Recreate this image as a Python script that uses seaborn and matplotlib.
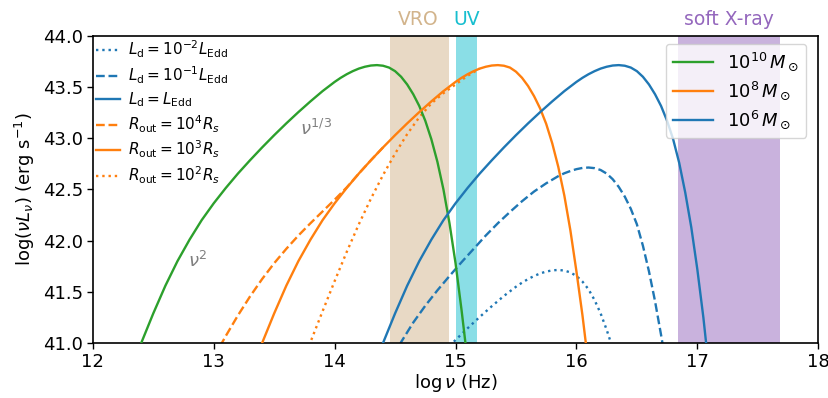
import numpy as np
import pandas as pd
import matplotlib
matplotlib.use("Agg")
import matplotlib.pyplot as plt
from matplotlib.lines import Line2D
import seaborn as sns

# ---- data ----
# 1e10 Msun, L_d = L_Edd, R_out = 1e3 Rs
green_x = [12.35, 12.40, 12.50, 12.60, 12.70, 12.80, 12.90, 13.00, 13.10, 13.20,
           13.30, 13.40, 13.50, 13.60, 13.70, 13.80, 13.90, 14.00, 14.05, 14.10,
           14.15, 14.20, 14.25, 14.30, 14.35, 14.40, 14.45, 14.50, 14.55, 14.60,
           14.65, 14.70, 14.75, 14.80, 14.85, 14.90, 14.95, 15.00, 15.05, 15.09]
green_y = [40.85, 41.00, 41.29, 41.56, 41.80, 42.01, 42.20, 42.365, 42.515, 42.655,
           42.785, 42.91, 43.03, 43.145, 43.255, 43.36, 43.46, 43.55, 43.59, 43.625,
           43.655, 43.68, 43.698, 43.71, 43.714, 43.708, 43.69, 43.655, 43.60, 43.525,
           43.43, 43.315, 43.17, 42.99, 42.77, 42.50, 42.17, 41.78, 41.32, 40.92]

# 1e8 Msun, L_d = L_Edd, R_out = 1e3 Rs
orange_x = [13.35, 13.40, 13.50, 13.60, 13.70, 13.80, 13.90, 14.00, 14.10, 14.20,
            14.30, 14.40, 14.50, 14.60, 14.70, 14.80, 14.90, 15.00, 15.05, 15.10,
            15.15, 15.20, 15.25, 15.30, 15.35, 15.40, 15.45, 15.50, 15.55, 15.60,
            15.65, 15.70, 15.75, 15.80, 15.85, 15.90, 15.95, 16.00, 16.05, 16.09]
orange_y = [40.85, 41.00, 41.29, 41.56, 41.80, 42.01, 42.20, 42.365, 42.515, 42.655,
            42.785, 42.91, 43.03, 43.145, 43.255, 43.36, 43.46, 43.55, 43.59, 43.625,
            43.655, 43.68, 43.698, 43.71, 43.714, 43.708, 43.69, 43.65, 43.59, 43.51,
            43.41, 43.29, 43.14, 42.95, 42.72, 42.44, 42.10, 41.70, 41.27, 40.88]

# 1e8 Msun, R_out = 1e4 Rs (joins the solid curve near 14.3)
orange_dash_x = [13.00, 13.10, 13.20, 13.30, 13.40, 13.50, 13.60, 13.70, 13.80,
                 13.90, 14.00, 14.10, 14.20, 14.30, 14.40]
orange_dash_y = [40.86, 41.07, 41.27, 41.455, 41.625, 41.78, 41.92, 42.05, 42.17,
                 42.285, 42.40, 42.52, 42.655, 42.785, 42.91]

# 1e8 Msun, R_out = 1e2 Rs (joins the solid curve near 15.1)
orange_dot_x = [13.75, 13.80, 13.90, 14.00, 14.10, 14.20, 14.30, 14.40, 14.50,
                14.60, 14.70, 14.80, 14.90, 15.00, 15.10, 15.20]
orange_dot_y = [40.86, 41.01, 41.31, 41.605, 41.89, 42.16, 42.41, 42.64, 42.85,
                43.04, 43.205, 43.34, 43.44, 43.525, 43.61, 43.68]

# 1e6 Msun, L_d = L_Edd
blue_x = [14.35, 14.40, 14.50, 14.60, 14.70, 14.80, 14.90, 15.00, 15.10, 15.20,
          15.30, 15.40, 15.50, 15.60, 15.70, 15.80, 15.90, 16.00, 16.05, 16.10,
          16.15, 16.20, 16.25, 16.30, 16.35, 16.40, 16.45, 16.50, 16.55, 16.60,
          16.65, 16.70, 16.75, 16.80, 16.85, 16.90, 16.95, 17.00, 17.05, 17.08]
blue_y = [40.85, 41.00, 41.29, 41.56, 41.80, 42.01, 42.20, 42.365, 42.515, 42.655,
          42.785, 42.91, 43.03, 43.145, 43.255, 43.36, 43.46, 43.55, 43.59, 43.625,
          43.655, 43.68, 43.698, 43.71, 43.714, 43.708, 43.69, 43.655, 43.60, 43.525,
          43.43, 43.315, 43.17, 42.99, 42.76, 42.47, 42.13, 41.72, 41.25, 40.92]

# 1e6 Msun, L_d = 0.1 L_Edd
blue_dash_x = [14.50, 14.55, 14.65, 14.75, 14.85, 14.95, 15.05, 15.15, 15.25, 15.35,
               15.45, 15.55, 15.65, 15.75, 15.80, 15.85, 15.90, 15.95, 16.00, 16.05,
               16.10, 16.15, 16.20, 16.25, 16.30, 16.35, 16.40, 16.45, 16.50, 16.55,
               16.60, 16.65, 16.70, 16.74]
blue_dash_y = [40.87, 41.01, 41.20, 41.365, 41.515, 41.655, 41.79, 41.92, 42.05, 42.17,
               42.28, 42.385, 42.48, 42.56, 42.595, 42.63, 42.658, 42.68, 42.698, 42.71,
               42.714, 42.708, 42.69, 42.655, 42.60, 42.525, 42.43, 42.31, 42.16, 41.95,
               41.70, 41.41, 41.08, 40.80]

# 1e6 Msun, L_d = 0.01 L_Edd
blue_dot_x = [14.95, 15.00, 15.10, 15.20, 15.30, 15.40, 15.50, 15.55, 15.60, 15.65,
              15.70, 15.75, 15.80, 15.85, 15.90, 15.95, 16.00, 16.05, 16.10, 16.15,
              16.20, 16.25, 16.30]
blue_dot_y = [40.97, 41.03, 41.145, 41.255, 41.36, 41.46, 41.55, 41.59, 41.625, 41.655,
              41.68, 41.698, 41.71, 41.714, 41.708, 41.69, 41.655, 41.60, 41.525, 41.42,
              41.29, 41.13, 40.95]

bands = {"VRO": (14.455, 14.945, "tan"),
         "UV": (15.0, 15.18, "tab:cyan"),
         "soft X-ray": (16.84, 17.68, "tab:purple")}
band_label_x = {"VRO": 14.69, "UV": 15.09, "soft X-ray": 17.26}

mass_labels = [r"$10^{10}\,M_\odot$", r"$10^{8}\,M_\odot$", r"$10^{6}\,M_\odot$"]
mass_colors = ["tab:green", "tab:orange", "tab:blue"]

# ---- plotting ----
plt.rcParams["font.family"] = ["DejaVu Sans"]
plt.rcParams["mathtext.fontset"] = "dejavusans"

fig = plt.figure(figsize=(8.29, 3.98), dpi=100)
ax = fig.add_axes([0.112, 0.138, 0.875, 0.772])

for name, (lo, hi, c) in bands.items():
    ax.axvspan(lo, hi, color=c, alpha=0.5, lw=0, zorder=0)
    ax.text(band_label_x[name], 44.07, name, color=c, fontsize=13.5,
            ha="center", va="bottom", clip_on=False)

LW = 1.7
def draw(xs, ys, color, ls, z):
    df = pd.DataFrame({"x": xs, "y": ys})
    sns.lineplot(data=df, x="x", y="y", ax=ax, color=color, linestyle=ls,
                 linewidth=LW, sort=False, estimator=None, zorder=z)

draw(orange_dash_x, orange_dash_y, "tab:orange", "--", 2)
draw(orange_dot_x, orange_dot_y, "tab:orange", ":", 2)
draw(blue_dash_x, blue_dash_y, "tab:blue", "--", 2)
draw(blue_dot_x, blue_dot_y, "tab:blue", ":", 2)
draw(green_x, green_y, "tab:green", "-", 3)
draw(orange_x, orange_y, "tab:orange", "-", 3)
draw(blue_x, blue_y, "tab:blue", "-", 3)

ax.text(13.71, 43.09, r"$\nu^{1/3}$", color="gray", fontsize=13, ha="left", va="center")
ax.text(12.79, 41.8, r"$\nu^{2}$", color="gray", fontsize=13, ha="left", va="center")

ax.set_xlim(12, 18)
ax.set_ylim(41, 44)
ax.set_xticks(range(12, 19))
yt = np.arange(41.0, 44.01, 0.5)
ax.set_yticks(yt)
ax.set_yticklabels([f"{v:.1f}" for v in yt])
ax.tick_params(labelsize=13, direction="out", length=4.5, width=1, color="black",
               labelcolor="black", pad=2.5)
ax.set_xlabel(r"$\log\nu$ (Hz)", fontsize=13, color="black", labelpad=1)
ax.set_ylabel(r"$\log(\nu L_\nu)$ (erg s$^{-1}$)", fontsize=13, color="black")
for s in ax.spines.values():
    s.set_color("black")
    s.set_linewidth(1.2)

style_handles = [
    Line2D([], [], color="tab:blue", ls=":", lw=LW),
    Line2D([], [], color="tab:blue", ls="--", lw=LW),
    Line2D([], [], color="tab:blue", ls="-", lw=LW),
    Line2D([], [], color="tab:orange", ls="--", lw=LW),
    Line2D([], [], color="tab:orange", ls="-", lw=LW),
    Line2D([], [], color="tab:orange", ls=":", lw=LW),
]
style_labels = [r"$L_{\rm d}=10^{-2}L_{\rm Edd}$", r"$L_{\rm d}=10^{-1}L_{\rm Edd}$",
                r"$L_{\rm d}=L_{\rm Edd}$", r"$R_{\rm out}=10^4R_s$",
                r"$R_{\rm out}=10^3R_s$", r"$R_{\rm out}=10^2R_s$"]
leg1 = ax.legend(style_handles, style_labels, loc="upper left", frameon=False,
                 fontsize=11, handlelength=1.6, handletextpad=0.5, labelspacing=0.28,
                 borderaxespad=0.0, borderpad=0.2, bbox_to_anchor=(0.0, 1.0))
ax.add_artist(leg1)

mass_handles = [Line2D([], [], color=c, lw=LW) for c in mass_colors]
ax.legend(mass_handles, mass_labels, loc="upper right", fontsize=13,
          handlelength=2.2, frameon=True, framealpha=0.8, borderaxespad=0.0,
          labelspacing=0.35, bbox_to_anchor=(0.9834, 0.974))

fig.savefig("out.png", dpi=100)
